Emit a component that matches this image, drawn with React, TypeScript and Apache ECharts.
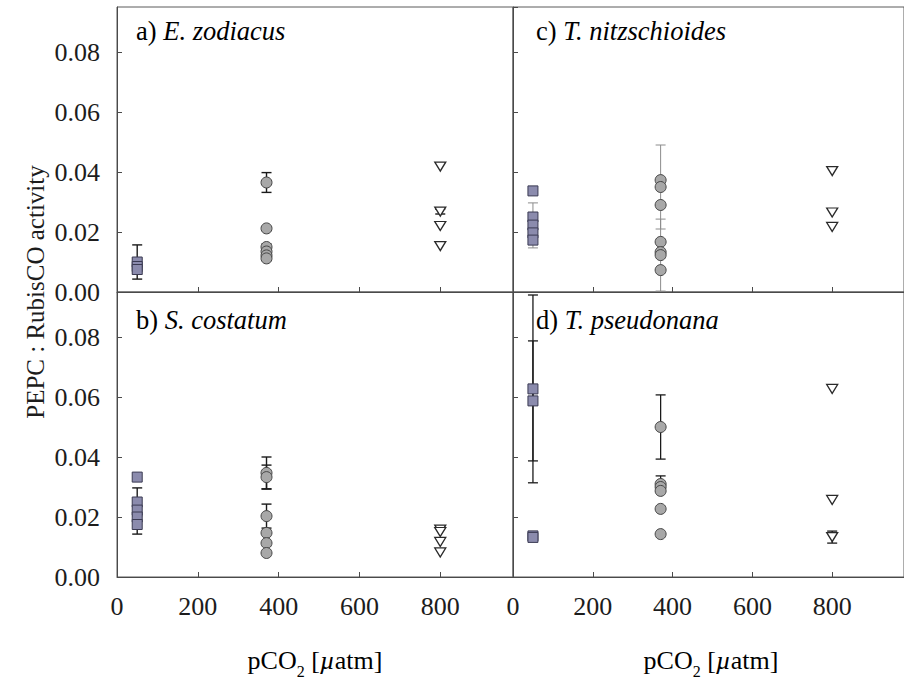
import { useEffect, useRef } from 'react';
import * as echarts from 'echarts';

// pCO2 treatments (µatm): low, present-day, high
const PCO2_LEVELS = [50, 370, 800];

// Panel captions: [letter, species]
const PANEL_LETTERS = ['a)', 'b)', 'c)', 'd)'];
const PANEL_SPECIES = ['E. zodiacus', 'S. costatum', 'T. nitzschioides', 'T. pseudonana'];

// Y ticks (PEPC : RubisCO activity ratio)
const Y_TICKS = [0, 0.02, 0.04, 0.06, 0.08];
// X ticks (pCO2, µatm)
const X_TICKS = [0, 200, 400, 600, 800];

// a) E. zodiacus — replicate ratios and their SD
const zodiacusLow = [0.0100, 0.0085, 0.0075];
const zodiacusLowErr = [0.0057, 0.0025, 0.0008];
const zodiacusMid = [0.0365, 0.0212, 0.0150, 0.0135, 0.0122, 0.0112];
const zodiacusMidErr = [0.0033, 0, 0.0010, 0, 0, 0];
const zodiacusHigh = [0.0418, 0.0268, 0.0220, 0.0153];
const zodiacusHighErr = [0, 0.0008, 0, 0];

// b) S. costatum
const costatumLow = [0.0333, 0.0250, 0.0223, 0.0200, 0.0175];
const costatumLowErr = [0, 0.0047, 0, 0, 0.0032];
const costatumMid = [0.0347, 0.0333, 0.0203, 0.0147, 0.0113, 0.0080];
const costatumMidErr = [0.0053, 0.0040, 0.0040, 0, 0, 0];
const costatumHigh = [0.0158, 0.0150, 0.0117, 0.0082];
const costatumHighErr = [0, 0, 0, 0];

// c) T. nitzschioides
const nitzLow = [0.0337, 0.0250, 0.0223, 0.0197, 0.0173];
const nitzLowErr = [0, 0.0047, 0, 0, 0.0026];
const nitzMid = [0.0373, 0.0350, 0.0290, 0.0167, 0.0133, 0.0123, 0.0073];
const nitzMidErr = [0, 0.0140, 0, 0, 0, 0.0120, 0];
const nitzHigh = [0.0403, 0.0265, 0.0217];
const nitzHighErr = [0, 0, 0];

// d) T. pseudonana
const pseudoLow = [0.0627, 0.0587, 0.0137, 0.0132];
const pseudoLowErr = [0.0313, 0.0200, 0, 0];
const pseudoMid = [0.0500, 0.0310, 0.0300, 0.0287, 0.0227, 0.0143];
const pseudoMidErr = [0.0107, 0.0027, 0, 0, 0, 0];
const pseudoHigh = [0.0627, 0.0257, 0.0133];
const pseudoHighErr = [0, 0, 0.0020];

const FONT = '"Liberation Serif", "Times New Roman", serif';
const INK = '#1c1c1c';

type Group = { values: number[]; errs: number[] };
type Panel = { groups: Group[]; errColor: string; errWidth: number };

// order: grid 0 = a (top-left), 1 = b (bottom-left), 2 = c (top-right), 3 = d (bottom-right)
const PANELS: Panel[] = [
  {
    groups: [
      { values: zodiacusLow, errs: zodiacusLowErr },
      { values: zodiacusMid, errs: zodiacusMidErr },
      { values: zodiacusHigh, errs: zodiacusHighErr },
    ],
    errColor: '#1a1a1a',
    errWidth: 1.4,
  },
  {
    groups: [
      { values: costatumLow, errs: costatumLowErr },
      { values: costatumMid, errs: costatumMidErr },
      { values: costatumHigh, errs: costatumHighErr },
    ],
    errColor: '#1a1a1a',
    errWidth: 1.4,
  },
  {
    groups: [
      { values: nitzLow, errs: nitzLowErr },
      { values: nitzMid, errs: nitzMidErr },
      { values: nitzHigh, errs: nitzHighErr },
    ],
    errColor: '#8c8c8c',
    errWidth: 1,
  },
  {
    groups: [
      { values: pseudoLow, errs: pseudoLowErr },
      { values: pseudoMid, errs: pseudoMidErr },
      { values: pseudoHigh, errs: pseudoHighErr },
    ],
    errColor: '#1a1a1a',
    errWidth: 1.3,
  },
];

const GRIDS = [
  { left: 117, top: 7, width: 396, height: 285 },
  { left: 117, top: 292, width: 396, height: 285 },
  { left: 513, top: 7, width: 396, height: 285 },
  { left: 513, top: 292, width: 396, height: 285 },
];

const MARKERS = [
  { symbol: 'rect', symbolSize: 10, symbolRotate: 0, color: '#8b8bad', border: '#3a3a52', bw: 1 },
  { symbol: 'circle', symbolSize: 11, symbolRotate: 0, color: '#a8a8a8', border: '#454545', bw: 1 },
  { symbol: 'triangle', symbolSize: [11, 9], symbolRotate: 180, color: '#ffffff', border: '#2a2a2a', bw: 1.3 },
];

function buildOption() {
  const yMin = Y_TICKS[0];
  const yStep = Y_TICKS[1] - Y_TICKS[0];
  const xMin = X_TICKS[0];
  const xStep = X_TICKS[1] - X_TICKS[0];

  const grid = GRIDS.map((g) => ({
    ...g,
    show: true,
    borderColor: '#5a5a5a',
    borderWidth: 1,
    backgroundColor: 'transparent',
  }));

  const xAxis = GRIDS.map((_, i) => {
    const bottomRow = i === 1 || i === 3;
    return {
      type: 'value',
      gridIndex: i,
      min: xMin,
      max: 980,
      interval: xStep,
      axisLine: { show: true, lineStyle: { color: '#4a4a4a', width: 1 } },
      axisTick: { show: true, inside: true, length: 5, lineStyle: { color: '#4a4a4a' } },
      splitLine: { show: false },
      axisLabel: {
        show: bottomRow,
        showMaxLabel: false,
        margin: 16,
        color: INK,
        fontFamily: FONT,
        fontSize: 26,
        formatter: (v: number) => String(Math.round(v)),
      },
    };
  });

  const yAxis = GRIDS.map((_, i) => {
    const leftCol = i === 0 || i === 1;
    return {
      type: 'value',
      gridIndex: i,
      min: yMin,
      max: 0.095,
      interval: yStep,
      axisLine: { show: true, lineStyle: { color: '#4a4a4a', width: 1 } },
      axisTick: { show: true, inside: true, length: 5, lineStyle: { color: '#4a4a4a' } },
      splitLine: { show: false },
      axisLabel: {
        show: leftCol,
        showMaxLabel: false,
        margin: 17,
        color: INK,
        fontFamily: FONT,
        fontSize: 26,
        formatter: (v: number) => v.toFixed(2),
      },
    };
  });

  const series: any[] = [];
  PANELS.forEach((panel, pi) => {
    // error bars first so markers sit over the bar stems
    const errData: number[][] = [];
    panel.groups.forEach((grp, gi) => {
      grp.values.forEach((v, k) => {
        const e = grp.errs[k];
        if (e > 0) errData.push([PCO2_LEVELS[gi], v, e]);
      });
    });
    series.push({
      type: 'custom',
      xAxisIndex: pi,
      yAxisIndex: pi,
      clip: true,
      z: 2,
      encode: { x: 0, y: 1 },
      data: errData,
      renderItem: (_params: any, api: any) => {
        const x = api.value(0);
        const y = api.value(1);
        const e = api.value(2);
        const top = api.coord([x, y + e]);
        const bot = api.coord([x, y - e]);
        const hw = 5;
        const style = { stroke: panel.errColor, lineWidth: panel.errWidth, fill: 'none' };
        return {
          type: 'group',
          children: [
            { type: 'line', shape: { x1: top[0], y1: top[1], x2: bot[0], y2: bot[1] }, style },
            { type: 'line', shape: { x1: top[0] - hw, y1: top[1], x2: top[0] + hw, y2: top[1] }, style },
            { type: 'line', shape: { x1: bot[0] - hw, y1: bot[1], x2: bot[0] + hw, y2: bot[1] }, style },
          ],
        };
      },
    });

    panel.groups.forEach((grp, gi) => {
      const m = MARKERS[gi];
      series.push({
        type: 'scatter',
        xAxisIndex: pi,
        yAxisIndex: pi,
        z: 3,
        symbol: m.symbol,
        symbolSize: m.symbolSize,
        symbolRotate: m.symbolRotate,
        itemStyle: { color: m.color, borderColor: m.border, borderWidth: m.bw, opacity: 1 },
        emphasis: { disabled: true },
        data: grp.values.map((v) => [PCO2_LEVELS[gi], v]),
      });
    });
  });

  const captionPos = [
    [136, 31],
    [136, 320],
    [536, 31],
    [536, 320],
  ];

  const textRich = {
    n: { fontFamily: FONT, fontSize: 26.5, color: INK },
    i: { fontFamily: FONT, fontSize: 26.5, fontStyle: 'italic', color: INK },
  };

  const graphic: any[] = PANEL_LETTERS.map((letter, i) => ({
    type: 'text',
    x: captionPos[i][0],
    y: captionPos[i][1],
    z: 10,
    style: {
      text: `{n|${letter} }{i|${PANEL_SPECIES[i]}}`,
      rich: textRich,
      align: 'left',
      verticalAlign: 'middle',
    },
  }));

  graphic.push({
    type: 'text',
    x: 35,
    y: 292,
    rotation: Math.PI / 2,
    z: 10,
    style: {
      text: 'PEPC : RubisCO activity',
      fontFamily: FONT,
      fontSize: 25,
      fill: INK,
      align: 'center',
      verticalAlign: 'middle',
    },
  });

  const xTitleRich = {
    n: { fontFamily: FONT, fontSize: 26, color: INK, lineHeight: 32, verticalAlign: 'top' },
    i: { fontFamily: FONT, fontSize: 26, fontStyle: 'italic', color: INK, lineHeight: 32, verticalAlign: 'top' },
    s: { fontFamily: FONT, fontSize: 16, color: INK, lineHeight: 16, verticalAlign: 'bottom' },
  };
  [315, 711].forEach((cx) => {
    graphic.push({
      type: 'text',
      x: cx,
      y: 663,
      z: 10,
      style: {
        text: '{n|pCO}{s|2}{n| [}{i|µ}{n|atm]}',
        rich: xTitleRich,
        align: 'center',
        verticalAlign: 'middle',
      },
    });
  });

  return {
    animation: false,
    backgroundColor: '#ffffff',
    grid,
    xAxis,
    yAxis,
    series,
    graphic,
  };
}

export default function App() {
  const ref = useRef<HTMLDivElement>(null);

  useEffect(() => {
    if (!ref.current) return;
    const chart = echarts.init(ref.current, undefined, { renderer: 'svg' });
    chart.setOption(buildOption() as any);
    return () => {
      chart.dispose();
    };
  }, []);

  return (
    <div
      ref={ref}
      style={{ position: 'fixed', left: 0, top: 0, width: 904, height: 681, background: '#fff' }}
    />
  );
}
